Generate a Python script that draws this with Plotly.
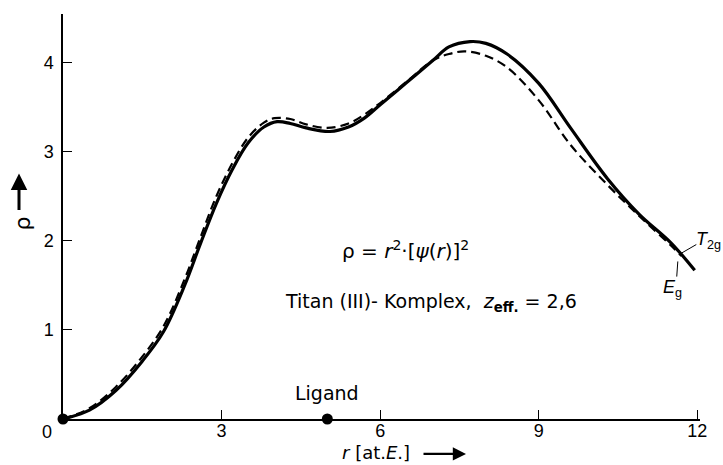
import plotly.graph_objects as go

# radial distance r in atomic units
r_t2g = [0.0, 0.5, 1.0, 1.5, 1.9, 2.3, 2.6, 2.9, 3.2, 3.5, 3.8, 4.05, 4.3, 4.6, 5.05,
         5.4, 5.7, 6.0, 6.5, 7.0, 7.3, 7.7, 8.0, 8.4, 9.0, 9.6, 10.3, 10.9, 11.5, 11.95]
rho_t2g = [0.0, 0.10, 0.32, 0.65, 0.98, 1.50, 1.97, 2.42, 2.80, 3.10, 3.28, 3.34, 3.32, 3.27, 3.23,
           3.28, 3.38, 3.53, 3.78, 4.03, 4.18, 4.24, 4.22, 4.10, 3.77, 3.27, 2.70, 2.30, 1.98, 1.67]

r_eg = [0.0, 0.5, 1.0, 1.5, 1.9, 2.3, 2.6, 2.9, 3.2, 3.5, 3.8, 4.0, 4.3, 4.6, 5.0,
        5.4, 5.7, 6.0, 6.5, 7.0, 7.3, 7.6, 8.0, 8.4, 9.0, 9.6, 10.3, 10.9, 11.5, 11.7]
rho_eg = [0.0, 0.12, 0.36, 0.70, 1.04, 1.57, 2.04, 2.50, 2.87, 3.16, 3.33, 3.38, 3.37, 3.31, 3.27,
          3.32, 3.42, 3.55, 3.79, 4.03, 4.10, 4.13, 4.08, 3.95, 3.58, 3.08, 2.63, 2.28, 1.95, 1.83]

# nucleus and ligand positions on the r axis
dot_r = [0.0, 5.0]
dot_rho = [0.0, 0.0]

x_ticks = [3, 6, 9, 12]
y_ticks = [1, 2, 3, 4]

NUM_FONT = "Liberation Sans, Arial, sans-serif"
TXT_FONT = "DejaVu Sans, Verdana, sans-serif"

fig = go.Figure()
fig.add_trace(go.Scatter(x=r_eg, y=rho_eg, mode="lines", line_shape="spline",
                         line=dict(color="black", width=2.2, dash="9px,5px"),
                         name="Eg", showlegend=False))
fig.add_trace(go.Scatter(x=r_t2g, y=rho_t2g, mode="lines", line_shape="spline",
                         line=dict(color="black", width=3.2),
                         name="T2g", showlegend=False))
fig.add_trace(go.Scatter(x=dot_r, y=dot_rho, mode="markers", cliponaxis=False,
                         marker=dict(color="black", size=11), showlegend=False))

fig.update_layout(
    width=723, height=465,
    margin=dict(l=63, r=23, t=14, b=46),
    paper_bgcolor="white", plot_bgcolor="white",
    font=dict(family=NUM_FONT, size=18, color="black"),
    xaxis=dict(range=[0, 12.05], showline=True, linecolor="black", linewidth=1.5,
               showgrid=False, zeroline=False, ticks="inside", ticklen=9,
               tickwidth=1, tickcolor="black", tickvals=x_ticks,
               ticktext=[str(v) for v in x_ticks], ticklabelstandoff=-5),
    yaxis=dict(range=[0, 4.55], showline=True, linecolor="black", linewidth=1.5,
               showgrid=False, zeroline=False, ticks="inside", ticklen=9,
               tickwidth=1, tickcolor="black", tickvals=y_ticks,
               ticktext=[str(v) for v in y_ticks], ticklabelstandoff=4),
)

# shared origin label
fig.add_annotation(x=0, y=0, xref="x", yref="y", text="0", showarrow=False,
                   xanchor="center", yanchor="middle", xshift=-16, yshift=-13)

fig.add_annotation(x=5, y=0.29, xref="x", yref="y", text="Ligand", showarrow=False,
                   font=dict(family=TXT_FONT, size=19))

fig.add_annotation(x=6.48, y=1.90, xref="x", yref="y",
                   text="ρ = <i>r</i><sup>2</sup>·[<i>ψ</i>(<i>r</i>)]<sup>2</sup>",
                   showarrow=False, font=dict(family=TXT_FONT, size=20))
fig.add_annotation(x=6.96, y=1.31, xref="x", yref="y",
                   text="Titan (III)- Komplex,  <i>z</i><sub><b>eff.</b></sub> = 2,6",
                   showarrow=False, font=dict(family=TXT_FONT, size=19))

# curve labels with leader lines
fig.add_shape(type="line", x0=11.66, y0=1.85, x1=11.98, y1=1.96, xref="x", yref="y",
              line=dict(color="black", width=1))
fig.add_shape(type="line", x0=11.63, y0=1.77, x1=11.61, y1=1.60, xref="x", yref="y",
              line=dict(color="black", width=1))
fig.add_annotation(x=11.98, y=2.0, xref="x", yref="y", text="<i>T</i><sub>2g</sub>",
                   showarrow=False, xanchor="left", yanchor="middle", xshift=-2,
                   font=dict(size=18))
fig.add_annotation(x=11.61, y=1.60, xref="x", yref="y", text="<i>E</i><sub>g</sub>",
                   showarrow=False, xanchor="center", yanchor="top", xshift=-4, yshift=2,
                   font=dict(size=18))

# axis titles with direction arrows
fig.add_annotation(x=(412 - 63) / 637, y=-(454 - 420) / 406, xref="paper", yref="paper",
                   text="<i>r</i> [at.<i>E</i>.]", showarrow=False,
                   xanchor="right", yanchor="middle", font=dict(family=TXT_FONT, size=18))
fig.add_annotation(x=(466 - 63) / 637, y=-(455 - 420) / 406, ax=-44, ay=0,
                   xref="paper", yref="paper", axref="pixel", ayref="pixel",
                   text="", showarrow=True, arrowhead=2, arrowsize=1.1, arrowwidth=2.4,
                   arrowcolor="black")
fig.add_annotation(x=-41 / 637, y=(420 - 224) / 406, xref="paper", yref="paper",
                   text="ρ", textangle=-90, showarrow=False, xanchor="center",
                   yanchor="middle", font=dict(family=TXT_FONT, size=22))
fig.add_annotation(x=-44 / 637, y=(420 - 174) / 406, ax=0, ay=38,
                   xref="paper", yref="paper", axref="pixel", ayref="pixel",
                   text="", showarrow=True, arrowhead=2, arrowsize=1.1, arrowwidth=3,
                   arrowcolor="black")

fig.write_html("out.html")
